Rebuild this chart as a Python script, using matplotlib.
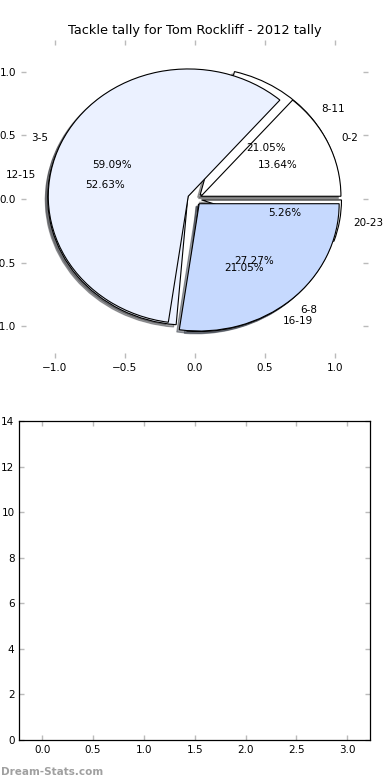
import matplotlib
matplotlib.use("Agg")
import matplotlib.pyplot as plt

# Data
labels1 = ["0-2", "3-5", "6-8"]
values1 = [3, 13, 6]
labels2 = ["8-11", "12-15", "16-19", "20-23"]
values2 = [4, 10, 4, 1]
colors = ["white", "#ebf1ff", "#c6d9fe"]
title = "Tackle tally for Tom Rockliff - 2012 tally"
bar_yticks = [0, 2, 4, 6, 8, 10, 12, 14]
bar_xticks = [0.0, 0.5, 1.0, 1.5, 2.0, 2.5, 3.0]

plt.rcParams["font.family"] = ["DejaVu Sans"]
plt.rcParams["font.size"] = 7.5

fig = plt.figure(figsize=(3.9, 7.8), dpi=100)
ax1 = fig.add_axes([0.054, 0.541, 0.89, 0.408])
ax2 = fig.add_axes([0.0495, 0.0513, 0.8995, 0.409])

wp = {"linewidth": 0.8, "edgecolor": "black"}
tp = {"fontsize": 7.5}
sh = {"ox": -0.013, "oy": -0.013}
ax1.pie(values2, labels=labels2, colors=colors, explode=[0.05] * len(values2),
        autopct="%.2f%%", shadow=sh, frame=True, wedgeprops=wp, textprops=tp)
ax1.pie(values1, labels=labels1, colors=colors, explode=[0.05] * len(values1),
        autopct="%.2f%%", shadow=sh, frame=True, wedgeprops=wp, textprops=tp)
ax1.set_aspect("auto")
ax1.set_xlim(-1.24, 1.24)
ax1.set_ylim(-1.25, 1.25)
ax1.set_xticks([-1.0, -0.5, 0.0, 0.5, 1.0])
ax1.set_yticks([-1.0, -0.5, 0.0, 0.5, 1.0])
for s in ax1.spines.values():
    s.set_visible(False)
ax1.set_title(title, fontsize=9.3, pad=4)

for ax in (ax1, ax2):
    ax.tick_params(direction="in", top=True, right=True, length=3.5, width=1,
                   color="#bbbbbb", labelcolor="black", labelsize=7.5, pad=3.5)

ax2.set_xlim(-0.225, 3.225)
ax2.set_ylim(0, 14)
ax2.set_yticks(bar_yticks)
ax2.set_xticks(bar_xticks)
for s in ax2.spines.values():
    s.set_linewidth(0.9)
    s.set_color("black")

fig.text(0.002, 1 - 775 / 780, "Dream-Stats.com", color="#a0a0a0", fontsize=7.5,
         fontweight="bold", va="baseline", ha="left")

fig.savefig("out.png", dpi=100)
